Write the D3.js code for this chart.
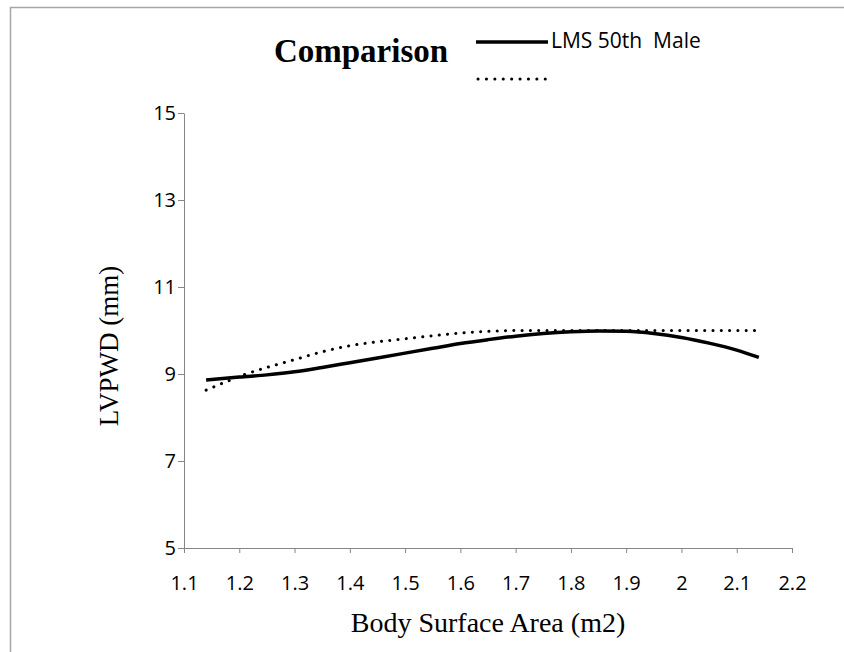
<!DOCTYPE html>
<html>
<head>
<meta charset="utf-8">
<script src="https://cdn.jsdelivr.net/npm/d3@7"></script>
<style>
    body { margin: 0; background: #fff; }
    .tick text { font-family: "Open Sans", sans-serif; font-size: 20px; fill: #000; }
    .axis path, .axis line { stroke: #868686; }
</style>
</head>
<body>
<div id="chart"></div>
<script>
// body surface area (m2) and LVPWD (mm)
const solidX = [1.14, 1.20, 1.25, 1.30, 1.35, 1.40, 1.45, 1.50, 1.55, 1.60, 1.65, 1.70, 1.75, 1.80, 1.85, 1.90, 1.95, 2.00, 2.05, 2.10, 2.14];
const solidY = [8.86, 8.93, 8.98, 9.05, 9.15, 9.26, 9.37, 9.48, 9.59, 9.70, 9.79, 9.87, 9.93, 9.97, 9.99, 9.98, 9.93, 9.84, 9.71, 9.55, 9.38];
const dottedX = [1.14, 1.18, 1.21, 1.25, 1.30, 1.35, 1.40, 1.45, 1.50, 1.55, 1.60, 1.65, 1.70, 1.80, 1.90, 2.00, 2.14];
const dottedY = [8.63, 8.84, 8.99, 9.15, 9.33, 9.51, 9.65, 9.74, 9.81, 9.88, 9.94, 9.98, 10.0, 10.0, 10.0, 10.0, 10.0];
const xTicks = [1.1, 1.2, 1.3, 1.4, 1.5, 1.6, 1.7, 1.8, 1.9, 2.0, 2.1, 2.2];
const yTicks = [5, 7, 9, 11, 13, 15];
const legendLabels = ["LMS 50th  Male", ""];

let width = 844, height = 652;
let plot = {left: 184, right: 792, top: 113, bottom: 548};

let svg = d3.select("#chart")
    .append("svg")
    .attr("width", width)
    .attr("height", height);

// outer frame
svg.append("rect")
    .attr("x", 10.5)
    .attr("y", 7.5)
    .attr("width", 900)
    .attr("height", 700)
    .attr("fill", "none")
    .attr("stroke", "#a6a6a6")
    .attr("stroke-width", 1.5);

let x = d3.scaleLinear().domain([1.1, 2.2]).range([plot.left, plot.right]);
let y = d3.scaleLinear().domain([5, 15]).range([plot.bottom, plot.top]);

let xAxis = d3.axisBottom(x)
    .tickValues(xTicks)
    .tickSize(5)
    .tickSizeOuter(0)
    .tickPadding(23)
    .tickFormat(function (d) { return d === 2 ? "2" : d3.format(".1f")(d); });

let yAxis = d3.axisLeft(y)
    .tickValues(yTicks)
    .tickSize(6)
    .tickSizeOuter(0)
    .tickPadding(2);

svg.append("g")
    .attr("class", "x axis")
    .attr("transform", "translate(0," + plot.bottom + ")")
    .call(xAxis);

svg.append("g")
    .attr("class", "y axis")
    .attr("transform", "translate(" + plot.left + ",0)")
    .call(yAxis);

let line = d3.line()
    .x(function (d) { return x(d[0]); })
    .y(function (d) { return y(d[1]); })
    .curve(d3.curveMonotoneX);

svg.append("path")
    .datum(dottedX.map(function (v, i) { return [v, dottedY[i]]; }))
    .attr("fill", "none")
    .attr("stroke", "#000")
    .attr("stroke-width", 3)
    .attr("stroke-linecap", "round")
    .attr("stroke-dasharray", "0.1 8.2")
    .attr("d", line);

svg.append("path")
    .datum(solidX.map(function (v, i) { return [v, solidY[i]]; }))
    .attr("fill", "none")
    .attr("stroke", "#000")
    .attr("stroke-width", 3.5)
    .attr("d", line);

// title
svg.append("text")
    .attr("x", 361)
    .attr("y", 62)
    .attr("text-anchor", "middle")
    .style("font-family", "'Liberation Serif', 'Times New Roman', serif")
    .style("font-weight", "bold")
    .style("font-size", "33px")
    .text("Comparison");

// legend
let legend = svg.append("g");
legend.append("line")
    .attr("x1", 476).attr("x2", 548)
    .attr("y1", 42).attr("y2", 42)
    .attr("stroke", "#000")
    .attr("stroke-width", 3.5);
legend.append("text")
    .attr("x", 551)
    .attr("y", 48)
    .style("font-family", "'Open Sans', sans-serif")
    .style("font-size", "21px")
    .style("white-space", "pre")
    .text(legendLabels[0]);
legend.append("line")
    .attr("x1", 478).attr("x2", 548)
    .attr("y1", 79).attr("y2", 79)
    .attr("stroke", "#000")
    .attr("stroke-width", 3)
    .attr("stroke-linecap", "round")
    .attr("stroke-dasharray", "0.1 8.3");

// axis titles
svg.append("text")
    .attr("x", (plot.left + plot.right) / 2)
    .attr("y", 632)
    .attr("text-anchor", "middle")
    .style("font-family", "'Liberation Serif', 'Times New Roman', serif")
    .style("font-size", "28px")
    .text("Body Surface Area (m2)");

svg.append("text")
    .attr("transform", "translate(118,346) rotate(-90)")
    .attr("text-anchor", "middle")
    .style("font-family", "'Liberation Serif', 'Times New Roman', serif")
    .style("font-size", "27px")
    .text("LVPWD (mm)");
</script>
</body>
</html>
